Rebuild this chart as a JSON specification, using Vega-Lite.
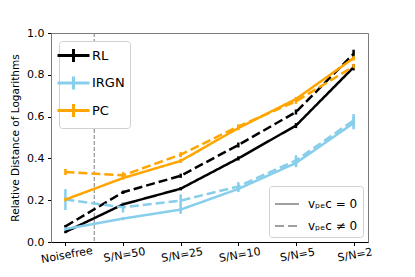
{
  "$schema": "https://vega.github.io/schema/vega-lite/v6.json",
  "width": 317,
  "height": 209,
  "autosize": {"type": "none"},
  "padding": {"left": 51, "top": 33, "right": 47, "bottom": 35},
  "background": "white",
  "config": {
    "font": "DejaVu Sans",
    "view": {"stroke": "#7a7a7a", "strokeWidth": 1},
    "axis": {"grid": false, "labelFont": "DejaVu Sans", "titleFont": "DejaVu Sans", "labelColor": "black", "titleColor": "black", "tickColor": "black", "tickSize": 3.5, "labelPadding": 3.5}
  },
  "data": {
    "values": [
      {"method": "RL", "noise": "solid", "i": 0, "d": 0.048, "err": 0.006},
      {"method": "RL", "noise": "solid", "i": 1, "d": 0.18, "err": 0.008},
      {"method": "RL", "noise": "solid", "i": 2, "d": 0.255, "err": 0.008},
      {"method": "RL", "noise": "solid", "i": 3, "d": 0.40, "err": 0.01},
      {"method": "RL", "noise": "solid", "i": 4, "d": 0.557, "err": 0.012},
      {"method": "RL", "noise": "solid", "i": 5, "d": 0.836, "err": 0.015},
      {"method": "RL", "noise": "dashed", "i": 0, "d": 0.075, "err": 0.006},
      {"method": "RL", "noise": "dashed", "i": 1, "d": 0.238, "err": 0.008},
      {"method": "RL", "noise": "dashed", "i": 2, "d": 0.317, "err": 0.01},
      {"method": "RL", "noise": "dashed", "i": 3, "d": 0.464, "err": 0.012},
      {"method": "RL", "noise": "dashed", "i": 4, "d": 0.622, "err": 0.012},
      {"method": "RL", "noise": "dashed", "i": 5, "d": 0.90, "err": 0.02},
      {"method": "IRGN", "noise": "solid", "i": 0, "d": 0.062, "err": 0.008},
      {"method": "IRGN", "noise": "solid", "i": 1, "d": 0.112, "err": 0.008},
      {"method": "IRGN", "noise": "solid", "i": 2, "d": 0.155, "err": 0.02},
      {"method": "IRGN", "noise": "solid", "i": 3, "d": 0.254, "err": 0.015},
      {"method": "IRGN", "noise": "solid", "i": 4, "d": 0.378, "err": 0.02},
      {"method": "IRGN", "noise": "solid", "i": 5, "d": 0.569, "err": 0.03},
      {"method": "IRGN", "noise": "dashed", "i": 0, "d": 0.203, "err": 0.05},
      {"method": "IRGN", "noise": "dashed", "i": 1, "d": 0.166, "err": 0.025},
      {"method": "IRGN", "noise": "dashed", "i": 2, "d": 0.198, "err": 0.03},
      {"method": "IRGN", "noise": "dashed", "i": 3, "d": 0.266, "err": 0.02},
      {"method": "IRGN", "noise": "dashed", "i": 4, "d": 0.39, "err": 0.025},
      {"method": "IRGN", "noise": "dashed", "i": 5, "d": 0.582, "err": 0.03},
      {"method": "PC", "noise": "solid", "i": 0, "d": 0.203, "err": 0.008},
      {"method": "PC", "noise": "solid", "i": 1, "d": 0.306, "err": 0.008},
      {"method": "PC", "noise": "solid", "i": 2, "d": 0.388, "err": 0.01},
      {"method": "PC", "noise": "solid", "i": 3, "d": 0.545, "err": 0.01},
      {"method": "PC", "noise": "solid", "i": 4, "d": 0.684, "err": 0.01},
      {"method": "PC", "noise": "solid", "i": 5, "d": 0.88, "err": 0.012},
      {"method": "PC", "noise": "dashed", "i": 0, "d": 0.335, "err": 0.015},
      {"method": "PC", "noise": "dashed", "i": 1, "d": 0.319, "err": 0.015},
      {"method": "PC", "noise": "dashed", "i": 2, "d": 0.418, "err": 0.012},
      {"method": "PC", "noise": "dashed", "i": 3, "d": 0.553, "err": 0.01},
      {"method": "PC", "noise": "dashed", "i": 4, "d": 0.673, "err": 0.012},
      {"method": "PC", "noise": "dashed", "i": 5, "d": 0.84, "err": 0.012}
    ]
  },
  "layer": [
    {
      "data": {"values": [{"sep": 0.5}]},
      "mark": {"type": "rule", "color": "#808080", "strokeWidth": 1, "strokeDash": [4, 2]},
      "encoding": {"x": {"field": "sep", "type": "quantitative", "scale": {"domain": [-0.25, 5.25]}}}
    },
    {
      "mark": {"type": "rule", "strokeWidth": 2.5},
      "encoding": {
        "x": {"field": "i", "type": "quantitative"},
        "y": {"field": "lo", "type": "quantitative"},
        "y2": {"field": "hi"},
        "color": {"field": "method", "type": "nominal"}
      },
      "transform": [
        {"calculate": "datum.d - datum.err", "as": "lo"},
        {"calculate": "datum.d + datum.err", "as": "hi"}
      ]
    },
    {
      "mark": {"type": "line", "strokeWidth": 2.5},
      "encoding": {
        "x": {
          "field": "i", "type": "quantitative",
          "scale": {"domain": [-0.25, 5.25], "nice": false, "zero": false},
          "axis": {
            "title": null, "values": [0, 1, 2, 3, 4, 5],
            "labelExpr": "['Noisefree','S/N=50','S/N=25','S/N=10','S/N=5','S/N=2'][datum.value]",
            "labelAngle": -10, "labelAlign": "center", "labelBaseline": "top",
            "labelFontSize": 11, "domainColor": "black", "domainWidth": 1, "labelFlush": false, "labelOverlap": false
          }
        },
        "y": {
          "field": "d", "type": "quantitative",
          "scale": {"domain": [0, 1], "nice": false},
          "axis": {
            "title": "Relative Distance of Logarithms", "values": [0, 0.2, 0.4, 0.6, 0.8, 1.0],
            "format": ".1f", "labelFontSize": 11, "titleFontSize": 10.5, "titleFontWeight": "normal",
            "titlePadding": 6, "domainColor": "#7a7a7a", "labelFlush": false
          }
        },
        "color": {
          "field": "method", "type": "nominal",
          "scale": {"domain": ["RL", "IRGN", "PC"], "range": ["#000000", "#87CEEB", "#FFA500"]},
          "legend": {
            "title": null, "orient": "top-left", "offset": 8,
            "symbolType": "M-2,0H2M0,-0.8V0.8", "symbolSize": 256, "symbolStrokeWidth": 3,
            "labelFontSize": 13, "labelFont": "DejaVu Sans", "labelFontWeight": "normal", "rowPadding": 2.5, "labelOffset": 9,
            "padding": 5, "strokeColor": "#d0d0d0", "fillColor": "white", "cornerRadius": 3
          }
        },
        "strokeDash": {
          "field": "noise", "type": "nominal",
          "scale": {"domain": ["solid", "dashed"], "range": [[1, 0], [9, 4]]},
          "legend": {
            "title": null, "orient": "bottom-right", "offset": 5,
            "symbolType": "stroke", "symbolSize": 576, "symbolStrokeWidth": 1.5, "symbolStrokeColor": "#808080",
            "symbolDash": [4, 2],
            "labelExpr": "datum.value == 'solid' ? 'vₚₑc = 0' : 'vₚₑc ≠ 0'",
            "labelFontSize": 12, "labelFont": "DejaVu Sans", "rowPadding": 3, "labelOffset": 8,
            "padding": 5, "strokeColor": "#d0d0d0", "fillColor": "white", "cornerRadius": 3
          }
        },
        "detail": {"field": "noise"}
      }
    }
  ]
}
